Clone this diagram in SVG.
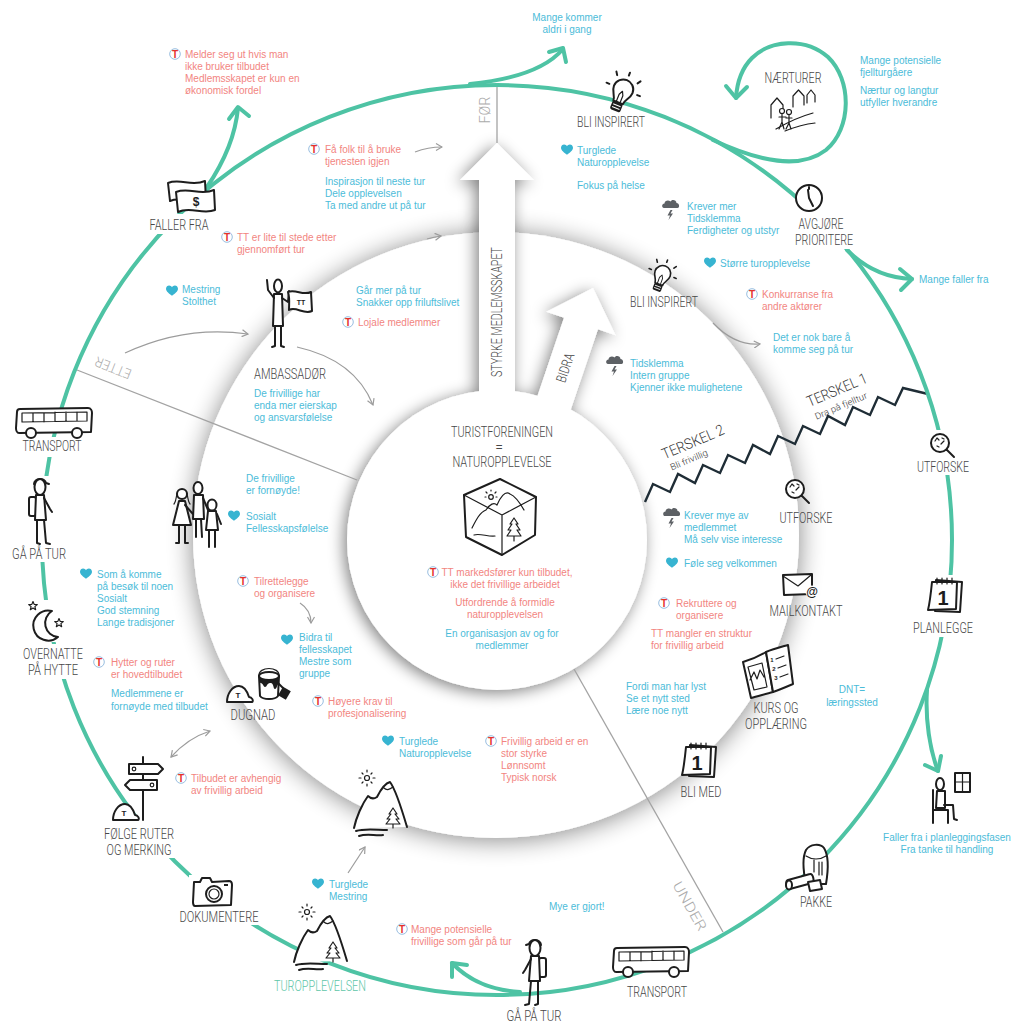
<svg xmlns="http://www.w3.org/2000/svg" width="1011" height="1023" viewBox="0 0 1011 1023">
<defs>
<style>
.lb{font-family:Roboto,"Liberation Sans",sans-serif;font-weight:300;font-size:14px;fill:#474747;text-anchor:middle}
.ph{font-family:Roboto,"Liberation Sans",sans-serif;font-weight:300;font-size:14px;fill:#ababab;text-anchor:middle}
.tk{font-family:Roboto,"Liberation Sans",sans-serif;font-weight:300;fill:#3a3a3a;text-anchor:middle}
.b{font-family:"Liberation Sans",Arial,sans-serif;font-size:10px;fill:#4cbcd9}
.r{font-family:"Liberation Sans",Arial,sans-serif;font-size:10px;fill:#f2857f}
.c{text-anchor:middle}
.g{fill:#5ec6a8}
.ic{fill:none;stroke:#1d1d1d;stroke-width:2;stroke-linecap:round;stroke-linejoin:round}
.w{fill:#fff}
.th{stroke-width:1.2}
.dk{fill:#1d1d1d}
.it{font-family:"Liberation Sans",Arial,sans-serif;font-weight:bold;fill:#1d1d1d;text-anchor:middle}
.ring{fill:none;stroke:#4ec3a4;stroke-width:4;stroke-linecap:round;stroke-linejoin:round}
.ga{fill:none;stroke:#9c9c9c;stroke-width:1.2}
.dv{stroke:#a3a3a3;stroke-width:1.3;fill:none}
.ko{fill:#fff}
.hrt{fill:#37b4d1}
</style>
<filter id="sh" x="-20%" y="-20%" width="140%" height="140%">
<feGaussianBlur in="SourceAlpha" stdDeviation="13"/>
<feOffset dx="0" dy="2"/>
<feComponentTransfer><feFuncA type="linear" slope="0.48"/></feComponentTransfer>
<feMerge><feMergeNode/><feMergeNode in="SourceGraphic"/></feMerge>
</filter>
<filter id="sh2" x="-30%" y="-30%" width="160%" height="160%">
<feGaussianBlur in="SourceAlpha" stdDeviation="8"/>
<feOffset dx="-3" dy="3"/>
<feComponentTransfer><feFuncA type="linear" slope="0.5"/></feComponentTransfer>
<feMerge><feMergeNode/><feMergeNode in="SourceGraphic"/></feMerge>
</filter>
<marker id="ah" viewBox="0 0 8 8" refX="7" refY="4" markerWidth="8" markerHeight="8" orient="auto-start-reverse" markerUnits="userSpaceOnUse">
<path d="M1,0.5 L7,4 L1,7.5" fill="none" stroke="#9c9c9c" stroke-width="1.2"/>
</marker>
<!-- DNT logo -->
<g id="tt"><circle r="5.3" fill="#fff" stroke="#8db7dd" stroke-width="0.9"/><text y="3.7" text-anchor="middle" font-family="Liberation Sans,Arial,sans-serif" font-weight="bold" font-size="10" fill="#e5322b">T</text></g>
<path id="hr" class="hrt" d="M0,4.8 C-2.5,3 -6,0.5 -6,-2.2 C-6,-4.4 -4.4,-5.6 -2.9,-5.6 C-1.6,-5.6 -0.5,-4.8 0,-3.8 C0.5,-4.8 1.6,-5.6 2.9,-5.6 C4.4,-5.6 6,-4.4 6,-2.2 C6,0.5 2.5,3 0,4.8 Z"/>
<g id="cl">
<path fill="#5d6165" d="M-7,1 C-9.5,1 -9.5,-3.5 -6.5,-3.5 C-6.5,-6.5 -2.5,-7.5 -0.5,-5.5 C0.5,-8 5.5,-7.5 5.5,-4 C8.5,-4 9,1 6.5,1 Z"/>
<path fill="#5d6165" d="M-0.5,3 L-3.5,8.5 L-1,8.5 L-2.5,13 L2,6.5 L-0.5,6.5 L1.5,3 Z"/>
</g>
<path id="star" class="ic th w" d="M0,-4.5 L1.18,-1.62 L4.28,-1.39 L1.9,0.62 L2.65,3.64 L0,2 L-2.65,3.64 L-1.9,0.62 L-4.28,-1.39 L-1.18,-1.62 Z"/>
<g id="bulb">
<path class="ic w" d="M-5,8 C-5,3 -10,0 -10,-6 C-10,-12 -5,-16 0,-16 C5,-16 10,-12 10,-6 C10,0 5,3 5,8 Z"/>
<path class="ic th" d="M-2,8 L-2,0 L0,-4 L2,0 L2,8"/>
<rect x="-5.5" y="8" width="11" height="9" rx="2" class="dk"/>
<path d="M-4,11 L4,11 M-4,14 L4,14" stroke="#fff" stroke-width="1"/>
<path class="ic" d="M0,-21 L0,-24 M11,-17 L13,-20 M15,-6 L18,-6 M-11,-17 L-13,-20 M-15,-6 L-18,-6"/>
</g>
<g id="bus">
<path class="ic w" d="M3,1 L71,0 C74,0 75,3 75,5 L74,24 L2,25 C0,25 -1,22 -1,20 L0,4 C0,2 1,1 3,1 Z"/>
<path class="ic th" d="M5,5 L70,4 L70,13 L5,14 Z M16,5 L16,14 M27,5 L27,14 M38,4 L38,13 M49,4 L49,13 M60,4 L60,13"/>
<circle class="ic w" cx="14" cy="25" r="5"/><circle class="ic w" cx="60" cy="25" r="5"/>
</g>
<g id="hiker">
<ellipse class="ic w" cx="0" cy="0" rx="5.5" ry="8"/>
<path class="ic" d="M-6,-3 C-6,-9 5,-10 6,-4 L9,-3"/>
<rect class="ic w" x="-11" y="10" width="7" height="19" rx="2"/>
<path class="ic w" d="M-4,8 L-5,33 L6,33 L4,8 Z"/>
<path class="ic" d="M-3,33 L-3,56 L0,57 M4,33 L6,56 L10,57"/>
<path class="ic" d="M4,11 L10,22 L12,25"/>
</g>
<g id="rock">
<path class="ic w" d="M0,0 C0,-8 5,-16 12,-16 C18,-16 21,-8 22,-5 C25,-5 27,-1 25,0 Z"/>
<text x="11" y="-4" font-size="8" class="it" font-weight="normal">T</text>
</g>
<g id="cal">
<path class="ic w" d="M9,3 L35,5 L33,35 L8,34 Z"/>
<path class="ic w" stroke-width="2.5" d="M5,5 L30,5 L29,32 L1,33 C3,25 4,15 5,5 Z"/>
<path class="ic th" d="M10,1 L10,7 M15,1 L15,7 M20,1 L20,7 M25,1 L25,7"/>
<text x="16" y="28" font-size="20" class="it">1</text>
</g>
<g id="mag">
<circle class="ic w" r="9"/>
<path class="ic" stroke-width="3.5" d="M6.5,6.5 L14,14"/>
<path class="ic th" d="M-5,-2 L-3,-5 L-1,-3 M1,1 L4,-2 M-3,3 L-1,4 M2,-5 L4,-4"/>
</g>
<g id="mtn">
<path class="w" d="M1,0 C3,-10 9,-24 15,-32 C18,-29 21,-29 24,-31 C28,-39 33,-45 37,-46 C43,-38 49,-18 54,-1 Z"/>
<path class="ic" d="M1,0 C3,-10 9,-24 15,-32 C18,-29 21,-29 24,-31 C28,-39 33,-45 37,-46 C43,-38 49,-18 54,-1"/>
<path class="ic th" d="M31,-40 C34,-37 37,-39 40,-41"/>
<path class="ic th w" d="M40,-20 L36,-14 L38,-14 L34,-9 L37,-9 L33,-4 L47,-4 L43,-9 L46,-9 L42,-14 L44,-14 Z M40,-4 L40,0"/>
<path class="ic" stroke-width="2.2" d="M3,3 C12,0 24,2 34,2 M6,8 C14,5 22,8 30,7"/>
<circle class="ic th" cx="14" cy="-50" r="2.5"/>
<path class="ic th" d="M14,-56 L14,-58 M14,-44 L14,-42 M8,-50 L6,-50 M20,-50 L22,-50 M10,-54 L9,-55 M18,-54 L19,-55 M10,-46 L9,-45 M18,-46 L19,-45"/>
</g>
</defs>

<rect width="1011" height="1023" fill="#fff"/>

<!-- layered discs -->
<circle cx="496" cy="535" r="303" fill="#fff" filter="url(#sh)"/>
<g id="core" filter="url(#sh2)">
<circle cx="497" cy="540" r="150" fill="#fff"/>
<polygon fill="#fff" points="497,143 534,180 515,180 515,420 479,420 479,180 460,180"/>
<polygon fill="#fff" points="593,288 615.6,335.2 598,329.3 569,414.8 535,403.2 564,317.7 546.4,311.8"/>
</g>

<g id="connectors">
<!-- phase dividers -->
<path class="dv" d="M497,85 L497,143"/>
<path class="dv" d="M77,370 L357,480"/>
<path class="dv" d="M574,669 L723,932"/>
<!-- thresholds -->
<polyline fill="none" stroke="#1f2d36" stroke-width="2.4" stroke-linejoin="miter" points="645,502 653,484 670,492 678,474 695,483 703,465 720,473 728,455 745,463 753,445 770,454 778,436 795,444 803,426 820,434 828,416 845,425 853,407 870,415 878,397 895,405 903,388 928,394"/>
<!-- journey ring -->
<circle class="ring" cx="497" cy="540" r="455"/>
<path class="ring" d="M207,187 C222,165 235,140 238,108"/>
<polyline class="ring" points="229,119 238,107 249,116"/>
<path class="ring" d="M470,84 C510,80 545,70 563,49"/>
<polyline class="ring" points="549,52 563,48 566,62"/>
<path class="ring" d="M713,140 C760,162 800,170 826,150 C852,128 852,80 828,57 C805,37 770,40 752,58 C742,68 737,82 736,98"/>
<polyline class="ring" points="726,86 736,98 747,87"/>
<path class="ring" d="M847,250 C865,268 885,278 912,279"/>
<polyline class="ring" points="900,269 912,279 901,290"/>
<path class="ring" d="M927,690 C925,720 930,750 938,771"/>
<polyline class="ring" points="925,765 938,771 941,756"/>
<path class="ring" d="M520,992 C492,990 470,982 452,963"/>
<polyline class="ring" points="452,977 452,963 467,965"/>
<!-- thin grey arrows -->
<path class="ga" marker-end="url(#ah)" d="M415,152 Q428,147 442,147"/>
<path class="ga" marker-end="url(#ah)" d="M427,239 Q434,237 441,236"/>
<path class="ga" marker-end="url(#ah)" d="M125,353 Q185,325 248,334"/>
<path class="ga" marker-end="url(#ah)" d="M297,347 Q355,360 373,405"/>
<path class="ga" marker-end="url(#ah)" d="M713,323 Q735,346 760,344"/>
<path class="ga" marker-end="url(#ah)" d="M300,603 Q311,610 311,623"/>
<path class="ga" marker-start="url(#ah)" marker-end="url(#ah)" d="M171,757 Q188,738 210,731"/>
<path class="ga" marker-end="url(#ah)" d="M348,873 L365,847"/>
</g>

<!-- phase and arrow captions -->
<text class="ph" transform="translate(485,110) rotate(-90)" y="5" textLength="27" lengthAdjust="spacingAndGlyphs">FØR</text>
<text class="ph" transform="translate(113,368) rotate(201.6)" y="5" textLength="38" lengthAdjust="spacingAndGlyphs">ETTER</text>
<text class="ph" transform="translate(690,906) rotate(60.4)" y="5" textLength="54" lengthAdjust="spacingAndGlyphs">UNDER</text>
<text class="lb" transform="translate(497,312) rotate(-90)" y="5" textLength="130" lengthAdjust="spacingAndGlyphs">STYRKE MEDLEMSSKAPET</text>
<text class="lb" font-size="12" transform="translate(566,368) rotate(-71.3)" y="4" textLength="30" lengthAdjust="spacingAndGlyphs">BIDRA</text>
<g id="terskel">
<text class="tk" font-size="15" transform="translate(837,390) rotate(-23)" y="5" textLength="64" lengthAdjust="spacingAndGlyphs">TERSKEL 1</text>
<text class="tk" font-size="9" font-family="Liberation Sans,Arial,sans-serif" transform="translate(841,406) rotate(-23)" y="3" textLength="56" lengthAdjust="spacingAndGlyphs">Dra på fjelltur</text>
<text class="tk" font-size="15" transform="translate(693,442) rotate(-23)" y="5" textLength="66" lengthAdjust="spacingAndGlyphs">TERSKEL 2</text>
<text class="tk" font-size="9" font-family="Liberation Sans,Arial,sans-serif" transform="translate(689,460) rotate(-23)" y="3" textLength="40" lengthAdjust="spacingAndGlyphs">Bli frivillig</text>
</g>

<!-- centre -->
<g id="n-turistforeningen">
<text class="lb" x="502" y="437" textLength="102" lengthAdjust="spacingAndGlyphs">TURISTFORENINGEN</text>
<text class="lb" x="499" y="452">=</text>
<text class="lb" x="502" y="467" textLength="99" lengthAdjust="spacingAndGlyphs">NATUROPPLEVELSE</text>
<path class="ic" stroke-width="3" d="M500,479 L536,497 L535,535 L502,555 L466,537 L464,495 Z"/>
<path class="ic th" d="M464,495 L502,515 L536,497 M502,515 L502,555"/>
<path class="ic th" d="M472,528 C476,520 480,512 486,510 C490,504 494,502 497,505 C500,498 505,490 510,494 C515,496 520,503 524,510"/>
<path class="ic th" d="M474,535 C480,533 488,537 495,536"/>
<circle class="ic th" cx="491" cy="497" r="2.3"/>
<path class="ic th" d="M491,491 L491,490 M486,497 L485,497 M496,497 L497,497 M487,493 L486,492 M495,493 L496,492"/>
<path class="ic th" d="M514,518 L510,524 L512,524 L508,530 L511,530 L507,536 L521,536 L517,530 L520,530 L516,524 L518,524 Z M514,536 L514,541"/>
</g>

<g id="nodes">
<g id="n-bli-inspirert-1">
<use href="#bulb" transform="translate(621,95) rotate(22)"/>
<text class="lb" x="611" y="127" textLength="68" lengthAdjust="spacingAndGlyphs">BLI INSPIRERT</text>
</g>
<g id="n-naerturer">
<text class="lb" x="793" y="83" textLength="57" lengthAdjust="spacingAndGlyphs">NÆRTURER</text>
<path class="ic th w" d="M771,118 L771,105 L777,98 L783,105 L783,112"/>
<path class="ic th" d="M793,107 L793,96 L798.5,90 L804,96 L804,105 M807,103 L807,95 L811,90 L815,95 L815,102"/>
<circle class="ic th w" cx="782" cy="111" r="2.5"/><circle class="ic th w" cx="789" cy="112" r="2.5"/>
<path class="ic th" d="M782,114 L782,122 L779,129 M782,122 L784,129 M779,117 L786,117 M789,115 L789,123 L786,129 M789,123 L791,129 M786,118 L792,118"/>
<path class="ic th" d="M776,129 C790,121 802,116 813,113 M785,131 C795,127 806,124 815,123"/>
</g>
<g id="n-avgjore">
<rect class="ko" x="792" y="211" width="64" height="38"/>
<circle class="ic w" cx="809" cy="198" r="13" stroke-width="2.5"/>
<path class="ic" d="M809,187 L809,189 M809,198 L808,190 M809,198 L813,206"/>
<text class="lb" x="821" y="229" textLength="45" lengthAdjust="spacingAndGlyphs">AVGJØRE</text>
<text class="lb" x="824" y="245" textLength="58" lengthAdjust="spacingAndGlyphs">PRIORITERE</text>
</g>
<g id="n-bli-inspirert-2">
<use href="#bulb" transform="translate(661,278) rotate(20) scale(0.8)"/>
<text class="lb" x="664" y="307" textLength="68" lengthAdjust="spacingAndGlyphs">BLI INSPIRERT</text>
</g>
<g id="n-utforske-1">
<rect class="ko" x="915" y="430" width="57" height="45"/>
<use href="#mag" transform="translate(940,443)"/>
<text class="lb" x="943" y="472" textLength="52" lengthAdjust="spacingAndGlyphs">UTFORSKE</text>
</g>
<g id="n-utforske-2">
<use href="#mag" transform="translate(795,489)"/>
<text class="lb" x="806" y="523" textLength="53" lengthAdjust="spacingAndGlyphs">UTFORSKE</text>
</g>
<g id="n-planlegge">
<rect class="ko" x="924" y="575" width="42" height="40"/>
<rect class="ko" x="910" y="612" width="66" height="25"/>
<use href="#cal" transform="translate(927,577)"/>
<text class="lb" x="943" y="633" textLength="60" lengthAdjust="spacingAndGlyphs">PLANLEGGE</text>
</g>
<g id="n-mailkontakt">
<path class="ic w" stroke-width="2.5" d="M783,575 L812,574 L812,594 L784,595 Z"/>
<path class="ic th" d="M783,576 L798,586 L811,575"/>
<circle cx="812" cy="592" r="6.5" fill="#fff"/>
<text x="812" y="596" font-size="12" class="it">@</text>
<text class="lb" x="806" y="616" textLength="73" lengthAdjust="spacingAndGlyphs">MAILKONTAKT</text>
</g>
<g id="n-kurs">
<path class="ic w" stroke-width="2.2" d="M743,662 C750,660 758,657 766,652 L773,692 C766,694 758,696 751,698 Z"/>
<path class="ic w" stroke-width="2.2" d="M766,652 C773,649 781,647 788,645 L793,684 C786,687 779,690 773,692 Z"/>
<path class="ic th" d="M748,667 L762,663 L767,687 L754,690 Z M750,680 L754,672 L757,679 L760,670 L764,677"/>
<text x="772" y="662" font-size="6" class="it" font-weight="normal">1</text>
<text x="774" y="671" font-size="6" class="it" font-weight="normal">2</text>
<text x="776" y="680" font-size="6" class="it" font-weight="normal">3</text>
<path class="ic th" d="M776,659 L784,656 M778,668 L786,665 M780,677 L788,674"/>
<text class="lb" x="776" y="713" textLength="45" lengthAdjust="spacingAndGlyphs">KURS OG</text>
<text class="lb" x="776" y="729" textLength="62" lengthAdjust="spacingAndGlyphs">OPPLÆRING</text>
</g>
<g id="n-bli-med">
<use href="#cal" transform="translate(681,742)"/>
<text class="lb" x="701" y="797" textLength="41" lengthAdjust="spacingAndGlyphs">BLI MED</text>
</g>
<g id="n-sitter">
<rect class="ic w" x="955" y="773" width="15" height="19"/>
<path class="ic th" d="M962.5,773 L962.5,792 M955,782 L970,782"/>
<ellipse class="ic w" cx="940" cy="784" rx="4" ry="6"/>
<path class="ic" d="M937,791 L936,808 L945,808 L945,791 Z"/>
<path class="ic" d="M933,790 L933,823 M933,810 L948,810 L948,823"/>
<path class="ic" d="M944,805 L953,805 L954,819 L957,820"/>
</g>
<g id="n-pakke">
<path class="ic w" d="M806,884 C803,870 802,858 806,850 C810,844 820,843 824,848 C829,856 828,872 826,884 Z"/>
<path class="ic th" d="M806,856 C812,860 820,860 826,856 M814,860 L814,872 M819,862 L819,875 M822,862 L822,875"/>
<path class="ic w" d="M788,880 L810,874 C813,873 815,882 812,883 L790,889 C786,890 785,881 788,880 Z"/>
<ellipse class="ic w" cx="789" cy="885" rx="3" ry="4.5"/>
<path class="ic w" d="M808,882 L820,880 L822,889 L810,891 Z"/>
<text class="lb" x="816" y="907" textLength="32" lengthAdjust="spacingAndGlyphs">PAKKE</text>
</g>
<g id="n-transport-2">
<use href="#bus" transform="translate(614,947)"/>
<text class="lb" x="657" y="997" textLength="60" lengthAdjust="spacingAndGlyphs">TRANSPORT</text>
</g>
<g id="n-gaa-2">
<use href="#hiker" transform="translate(535,948) scale(-1,1)"/>
<text class="lb" x="534" y="1021" textLength="55" lengthAdjust="spacingAndGlyphs">GÅ PÅ TUR</text>
</g>
<g id="n-turopplevelsen">
<use href="#mtn" transform="translate(293,962)"/>
<text class="lb g" x="320" y="991" textLength="92" lengthAdjust="spacingAndGlyphs">TUROPPLEVELSEN</text>
</g>
<g id="n-fjell">
<use href="#mtn" transform="translate(353,828)"/>
</g>
<g id="n-dokumentere">
<rect class="ko" x="189" y="875" width="46" height="35"/>
<rect class="ko" x="177" y="908" width="86" height="17"/>
<path class="ic w" stroke-width="2.5" d="M194,882 L200,882 L202,878 L210,878 L212,882 L229,881 C231,881 232,883 232,885 L231,905 L195,906 C193,906 193,904 193,902 Z"/>
<circle class="ic w" cx="214" cy="894" r="8"/><circle class="ic th" cx="214" cy="894" r="5"/>
<rect x="224" y="884" width="4" height="2" class="dk"/>
<text class="lb" x="219" y="922" textLength="79" lengthAdjust="spacingAndGlyphs">DOKUMENTERE</text>
</g>
<g id="n-folge">
<rect class="ko" x="101" y="818" width="76" height="40"/>
<path class="ic" stroke-width="2.5" d="M143,757 L143,820"/>
<path class="ic w" d="M129,764 L158,764 L163,769 L158,774 L129,774 Z"/>
<path class="ic w" d="M130,780 L157,780 L157,790 L130,790 L125,785 Z"/>
<circle class="ic th" cx="134" cy="769" r="1.8"/><circle class="ic th" cx="152" cy="785" r="1.8"/>
<use href="#rock" transform="translate(113,820)"/>
<text class="lb" x="139" y="839" textLength="70" lengthAdjust="spacingAndGlyphs">FØLGE RUTER</text>
<text class="lb" x="139" y="855" textLength="65" lengthAdjust="spacingAndGlyphs">OG MERKING</text>
</g>
<g id="n-dugnad">
<use href="#rock" transform="translate(227,702)"/>
<path class="ic th" d="M259,676 C258,666 280,666 279,676"/>
<path class="ic w" d="M259,676 L260,696 C263,700 275,700 278,696 L279,676"/>
<ellipse class="ic w" cx="269" cy="676" rx="10" ry="4"/>
<path class="dk" d="M259,677 C262,681 276,681 279,677 L279,684 C277,684 277,689 275,689 C273,689 274,682 270,683 C267,683 267,687 265,687 C263,687 263,682 259,683 Z"/>
<path class="ic" stroke-width="2.5" d="M278,683 L283,688"/>
<rect x="280" y="688" width="9" height="10" transform="rotate(30 284 693)" class="dk"/>
<text class="lb" x="253" y="720" textLength="45" lengthAdjust="spacingAndGlyphs">DUGNAD</text>
</g>
<g id="n-overnatte">
<rect class="ko" x="28" y="600" width="40" height="42"/>
<rect class="ko" x="20" y="644" width="66" height="35"/>
<path class="ic w" d="M52,611 A15,15 0 1 0 58,637 A14,14 0 0 1 52,611 Z"/>
<use href="#star" transform="translate(33,606)"/>
<use href="#star" transform="translate(59,623)"/>
<text class="lb" x="53" y="659" textLength="60" lengthAdjust="spacingAndGlyphs">OVERNATTE</text>
<text class="lb" x="53" y="675" textLength="50" lengthAdjust="spacingAndGlyphs">PÅ HYTTE</text>
</g>
<g id="n-gaa-1">
<rect class="ko" x="32" y="476" width="24" height="72"/>
<rect class="ko" x="10" y="546" width="58" height="16"/>
<use href="#hiker" transform="translate(40,487)"/>
<text class="lb" x="39" y="559" textLength="54" lengthAdjust="spacingAndGlyphs">GÅ PÅ TUR</text>
</g>
<g id="n-transport-1">
<rect class="ko" x="19" y="437" width="67" height="20"/>
<use href="#bus" transform="translate(17,408)"/>
<text class="lb" x="52" y="451" textLength="59" lengthAdjust="spacingAndGlyphs">TRANSPORT</text>
</g>
<g id="n-familie">
<circle class="ic w" cx="182" cy="494" r="5"/>
<path class="ic th" d="M177,493 C176,500 175,503 174,504 M187,493 C188,500 189,503 190,504"/>
<path class="ic w" d="M179,501 L185,501 L191,525 L173,525 Z"/>
<path class="ic" d="M179,525 L179,543 L176,543 M185,525 L185,543 L188,543 M185,505 L193,514"/>
<ellipse class="ic w" cx="198" cy="488" rx="4.5" ry="6"/>
<path class="ic w" d="M194,495 L203,495 L204,519 L193,519 Z"/>
<path class="ic" d="M196,519 L196,537 M201,519 L202,537 M203,498 L208,510"/>
<ellipse class="ic w" cx="212" cy="505" rx="4.5" ry="5.5"/>
<path class="ic w" d="M208,511 L216,511 L218,530 L206,530 Z"/>
<path class="ic" d="M209,530 L209,547 M215,530 L215,547 M217,514 L221,524"/>
</g>
<g id="n-ambassador">
<ellipse class="ic w" cx="278" cy="286" rx="4" ry="6.5"/>
<path class="ic w" d="M274,294 L273,326 L283,326 L282,294 Z"/>
<path class="ic" d="M275,326 L275,346 L272,347 M281,326 L281,346 L284,347"/>
<path class="ic" d="M274,298 L268,290 L267,280"/>
<path class="ic" d="M282,298 L288,302 L289,291"/>
<path class="ic w" d="M288,292 C296,289 303,296 311,292 L312,311 C304,315 296,306 289,310 C289,304 290,298 288,292 Z"/>
<text x="301" y="305" font-size="7" class="it" font-weight="normal">TT</text>
<text class="lb" x="290" y="379" textLength="72" lengthAdjust="spacingAndGlyphs">AMBASSADØR</text>
</g>
<g id="n-faller">
<rect class="ko" x="146" y="214" width="66" height="20"/>
<path class="ic w" d="M168,183 C180,178 192,187 205,181 L206,200 C194,205 182,196 170,201 Z"/>
<path class="ic w" stroke-width="2.5" d="M176,192 C189,187 201,196 214,190 L215,210 C203,215 190,206 178,212 Z"/>
<text x="196" y="206" font-size="12" class="it">$</text>
<text class="lb" x="179" y="230" textLength="59" lengthAdjust="spacingAndGlyphs">FALLER FRA</text>
</g>
</g>

<g id="notes">
<g><use href="#tt" x="175" y="54"/><text class="r"><tspan x="185" y="58">Melder seg ut hvis man</tspan><tspan x="185" y="70">ikke bruker tilbudet</tspan><tspan x="185" y="82">Medlemsskapet er kun en</tspan><tspan x="185" y="94">økonomisk fordel</tspan></text></g>
<g><use href="#tt" x="314" y="149"/><text class="r"><tspan x="325" y="153">Få folk til å bruke</tspan><tspan x="325" y="165">tjenesten igjen</tspan></text></g>
<text class="b"><tspan x="325" y="185">Inspirasjon til neste tur</tspan><tspan x="325" y="197">Dele opplevelsen</tspan><tspan x="325" y="209">Ta med andre ut på tur</tspan></text>
<g><use href="#tt" x="227" y="237"/><text class="r"><tspan x="237" y="241">TT er lite til stede etter</tspan><tspan x="237" y="253">gjennomført tur</tspan></text></g>
<g><use href="#hr" x="172" y="291"/><text class="b"><tspan x="182" y="293">Mestring</tspan><tspan x="182" y="305">Stolthet</tspan></text></g>
<text class="b"><tspan x="356" y="294">Går mer på tur</tspan><tspan x="356" y="306">Snakker opp friluftslivet</tspan></text>
<g><use href="#tt" x="348" y="322"/><text class="r" x="358" y="326">Lojale medlemmer</text></g>
<text class="b"><tspan x="254" y="397">De frivillige har</tspan><tspan x="254" y="409">enda mer eierskap</tspan><tspan x="254" y="421">og ansvarsfølelse</tspan></text>
<text class="b c"><tspan x="567" y="21">Mange kommer</tspan><tspan x="567" y="33">aldri i gang</tspan></text>
<text class="b"><tspan x="860" y="64">Mange potensielle</tspan><tspan x="860" y="76">fjellturgåere</tspan><tspan x="860" y="94">Nærtur og langtur</tspan><tspan x="860" y="106">utfyller hverandre</tspan></text>
<g><use href="#hr" x="567" y="150"/><text class="b"><tspan x="577" y="154">Turglede</tspan><tspan x="577" y="166">Naturopplevelse</tspan><tspan x="577" y="189">Fokus på helse</tspan></text></g>
<g><use href="#cl" x="671" y="207"/><text class="b"><tspan x="687" y="210">Krever mer</tspan><tspan x="687" y="222">Tidsklemma</tspan><tspan x="687" y="234">Ferdigheter og utstyr</tspan></text></g>
<g><use href="#hr" x="710" y="263"/><text class="b" x="720" y="267">Større turopplevelse</text></g>
<g><use href="#tt" x="752" y="294"/><text class="r"><tspan x="762" y="298">Konkurranse fra</tspan><tspan x="762" y="310">andre aktører</tspan></text></g>
<text class="b"><tspan x="773" y="341">Det er nok bare å</tspan><tspan x="773" y="353">komme seg på tur</tspan></text>
<text class="b" x="919" y="283">Mange faller fra</text>
<g><use href="#cl" x="615" y="363"/><text class="b"><tspan x="630" y="367">Tidsklemma</tspan><tspan x="630" y="379">Intern gruppe</tspan><tspan x="630" y="391">Kjenner ikke mulighetene</tspan></text></g>
<g><use href="#cl" x="672" y="515"/><text class="b"><tspan x="684" y="519">Krever mye av</tspan><tspan x="684" y="531">medlemmet</tspan><tspan x="684" y="543">Må selv vise interesse</tspan></text></g>
<g><use href="#hr" x="672" y="563"/><text class="b" x="684" y="567">Føle seg velkommen</text></g>
<g><use href="#tt" x="664" y="603"/><text class="r"><tspan x="676" y="607">Rekruttere og</tspan><tspan x="676" y="619">organisere</tspan></text></g>
<text class="r"><tspan x="651" y="637">TT mangler en struktur</tspan><tspan x="651" y="649">for frivillig arbeid</tspan></text>
<text class="b"><tspan x="626" y="690">Fordi man har lyst</tspan><tspan x="626" y="702">Se et nytt sted</tspan><tspan x="626" y="714">Lære noe nytt</tspan></text>
<text class="b c"><tspan x="852" y="693">DNT=</tspan><tspan x="852" y="706">læringssted</tspan></text>
<text class="b c"><tspan x="947" y="841">Faller fra i planleggingsfasen</tspan><tspan x="947" y="853">Fra tanke til handling</tspan></text>
<g><use href="#tt" x="433" y="572"/><text class="r c"><tspan x="507" y="576">TT markedsfører kun tilbudet,</tspan><tspan x="505" y="588">ikke det frivillige arbeidet</tspan></text></g>
<text class="r c"><tspan x="505" y="606">Utfordrende å formidle</tspan><tspan x="505" y="618">naturopplevelsen</tspan></text>
<text class="b c"><tspan x="502" y="637">En organisasjon av og for</tspan><tspan x="502" y="649">medlemmer</tspan></text>
<text class="b"><tspan x="246" y="482">De frivillige</tspan><tspan x="246" y="494">er fornøyde!</tspan></text>
<g><use href="#hr" x="234" y="516"/><text class="b"><tspan x="246" y="520">Sosialt</tspan><tspan x="246" y="532">Fellesskapsfølelse</tspan></text></g>
<g><use href="#hr" x="86" y="574"/><text class="b"><tspan x="97" y="578">Som å komme</tspan><tspan x="97" y="590">på besøk til noen</tspan><tspan x="97" y="602">Sosialt</tspan><tspan x="97" y="614">God stemning</tspan><tspan x="97" y="626">Lange tradisjoner</tspan></text></g>
<g><use href="#tt" x="99" y="662"/><text class="r"><tspan x="111" y="666">Hytter og ruter</tspan><tspan x="111" y="678">er hovedtilbudet</tspan></text></g>
<text class="b"><tspan x="111" y="697">Medlemmene er</tspan><tspan x="111" y="710">fornøyde med tilbudet</tspan></text>
<g><use href="#tt" x="243" y="581"/><text class="r"><tspan x="254" y="585">Tilrettelegge</tspan><tspan x="254" y="597">og organisere</tspan></text></g>
<g><use href="#hr" x="287" y="640"/><text class="b"><tspan x="299" y="641">Bidra til</tspan><tspan x="299" y="653">fellesskapet</tspan><tspan x="299" y="665">Mestre som</tspan><tspan x="299" y="677">gruppe</tspan></text></g>
<g><use href="#tt" x="318" y="701"/><text class="r"><tspan x="328" y="705">Høyere krav til</tspan><tspan x="328" y="717">profesjonalisering</tspan></text></g>
<g><use href="#tt" x="181" y="778"/><text class="r"><tspan x="191" y="782">Tilbudet er avhengig</tspan><tspan x="191" y="794">av frivillig arbeid</tspan></text></g>
<g><use href="#hr" x="388" y="741"/><text class="b"><tspan x="399" y="745">Turglede</tspan><tspan x="399" y="757">Naturopplevelse</tspan></text></g>
<g><use href="#tt" x="491" y="741"/><text class="r"><tspan x="501" y="745">Frivillig arbeid er en</tspan><tspan x="501" y="757">stor styrke</tspan><tspan x="501" y="769">Lønnsomt</tspan><tspan x="501" y="781">Typisk norsk</tspan></text></g>
<g><use href="#hr" x="318" y="884"/><text class="b"><tspan x="329" y="888">Turglede</tspan><tspan x="329" y="900">Mestring</tspan></text></g>
<text class="b" x="549" y="910">Mye er gjort!</text>
<g><use href="#tt" x="402" y="929"/><text class="r"><tspan x="411" y="933">Mange potensielle</tspan><tspan x="411" y="945">frivillige som går på tur</tspan></text></g>
</g>
</svg>
